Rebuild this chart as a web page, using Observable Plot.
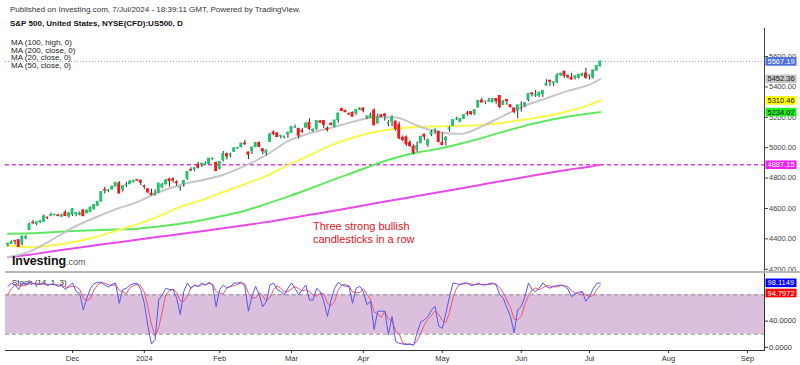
<!DOCTYPE html>
<html><head><meta charset="utf-8">
<script src="https://cdn.jsdelivr.net/npm/d3@7"></script>
<script src="https://cdn.jsdelivr.net/npm/@observablehq/plot@0.6"></script>
<style>
body{margin:0;background:#fff;}
#wrap{position:relative;width:800px;height:365px;overflow:hidden;font-family:"Liberation Sans",Arial,sans-serif;background:#fff;}
.abs{position:absolute;white-space:nowrap;}
</style></head><body>
<div id="wrap">
  <div class="abs" id="stochTitle" style="left:12px;top:278px;font-size:8px;line-height:9px;color:#222;z-index:0">Stoch (14, 1, 3)</div>
  <div class="abs" id="pricePanel" style="left:0;top:0;z-index:1"></div>
  <div class="abs" id="stochPanel" style="left:0;top:273px;z-index:1"></div>
  <div class="abs" style="left:5px;top:271px;width:795px;height:2px;background:#b8b8b8;z-index:2"></div>
  <div class="abs" style="left:10px;top:5px;font-size:8px;line-height:9px;color:#333;z-index:3">Published on Investing.com, 7/Jul/2024 - 18:39:11 GMT, Powered by TradingView.</div>
  <div class="abs" style="left:10px;top:19px;font-size:8px;line-height:9px;color:#111;font-weight:bold;z-index:3">S&amp;P 500, United States, NYSE(CFD):US500, D</div>
  <div class="abs" style="left:11px;top:39px;font-size:8px;line-height:7.6px;color:#222;z-index:3">MA (100, high, 0)<br>MA (200, close, 0)<br>MA (20, close, 0)<br>MA (50, close, 0)</div>
  <div class="abs" style="left:313px;top:220px;font-size:11px;line-height:13px;color:#e3121b;z-index:3">Three strong bullish<br>candlesticks in a row</div>
  <div class="abs" style="left:12px;top:251px;z-index:3;color:#111"><span style="font-size:12.5px;font-weight:bold;letter-spacing:-0.1px">Investing</span><span style="font-size:9px;color:#555">.com</span></div>
</div>
<script>
// ---- daily OHLC, bar index 0 = 6 Nov 2023 ... 165 = 5 Jul 2024 ----
const open = [4364,4366,4384,4391,4365,4406,4458,4505,4497,4509,
4512,4539,4553,4555,4554,4546,4571,4548,4559,4564,
4557,4587,4568,4576,4593,4618,4646,4721,4714,4726,
4744,4764,4724,4754,4759,4773,4786,4782,4745,4726,
4697,4690,4703,4741,4759,4792,4791,4772,4739,4760,
4796,4853,4856,4888,4886,4888,4893,4925,4899,4862,
4917,4957,4950,4973,4996,5004,5027,4968,4977,5004,
5031,4990,4963,5038,5100,5094,5074,5068,5086,5098,
5131,5124,5109,5132,5164,5111,5124,5173,5176,5124,
5155,5139,5182,5254,5242,5220,5228,5226,5249,5258,
5204,5195,5244,5159,5212,5217,5160,5172,5172,5149,
5065,5068,5032,5005,4988,5029,5085,5019,5085,5114,
5103,5030,5050,5122,5143,5187,5168,5190,5225,5234,
5222,5264,5310,5303,5305,5298,5319,5340,5281,5315,
5279,5259,5244,5283,5278,5314,5357,5343,5341,5353,
5410,5441,5424,5431,5476,5499,5471,5459,5461,5460,
5474,5488,5471,5462,5507,5537];
const high = [4372,4386,4391,4393,4418,4421,4503,4521,4511,4521,
4557,4543,4569,4560,4562,4562,4587,4569,4599,4574,
4578,4591,4591,4610,4623,4644,4709,4739,4725,4749,
4768,4778,4749,4772,4784,4785,4793,4788,4754,4729,
4727,4722,4764,4765,4791,4798,4802,4782,4744,4785,
4842,4868,4866,4903,4898,4907,4929,4932,4906,4906,
4975,4965,4964,4999,5000,5030,5048,4971,5002,5033,
5038,4994,4983,5094,5111,5097,5081,5077,5104,5140,
5149,5127,5127,5165,5190,5124,5179,5179,5177,5137,
5166,5180,5225,5261,5247,5230,5236,5249,5264,5264,
5208,5228,5256,5222,5219,5225,5178,5211,5176,5168,
5077,5077,5046,5019,5038,5076,5089,5057,5114,5124,
5110,5096,5074,5139,5183,5200,5191,5215,5239,5238,
5251,5311,5325,5305,5325,5324,5323,5342,5311,5315,
5283,5260,5280,5302,5298,5355,5362,5376,5365,5376,
5448,5442,5432,5489,5490,5506,5479,5490,5472,5483,
5491,5523,5479,5510,5539,5570];
const low = [4347,4362,4359,4343,4353,4393,4458,4496,4487,4500,
4511,4526,4546,4552,4545,4541,4547,4537,4547,4546,
4551,4547,4566,4574,4593,4615,4643,4695,4705,4720,
4743,4697,4708,4737,4758,4768,4781,4751,4723,4700,
4683,4682,4700,4730,4756,4740,4768,4747,4714,4740,
4785,4844,4842,4860,4870,4881,4888,4917,4845,4853,
4907,4919,4934,4969,4988,4999,5016,4921,4955,5000,
4999,4954,4946,5038,5081,5068,5058,5058,5061,5094,
5127,5057,5092,5129,5114,5102,5115,5160,5126,5104,
5148,5131,5161,5240,5229,5216,5203,5213,5246,5229,
5184,5194,5146,5157,5197,5175,5138,5138,5108,5052,
5039,5008,5001,4953,4969,5027,5047,5002,5073,5086,
5035,5013,5011,5102,5142,5178,5166,5185,5207,5211,
5213,5263,5296,5283,5299,5297,5286,5256,5278,5280,
5262,5223,5191,5234,5265,5302,5335,5331,5331,5331,
5405,5403,5403,5421,5471,5455,5452,5447,5446,5452,
5468,5451,5446,5452,5507,5531];
const close = [4366,4378,4383,4347,4415,4411,4496,4503,4508,4514,
4547,4538,4556,4559,4550,4554,4550,4568,4595,4569,
4567,4549,4585,4604,4622,4644,4707,4719,4719,4740,
4768,4698,4747,4755,4775,4782,4783,4770,4743,4705,
4689,4697,4764,4757,4783,4780,4784,4766,4739,4781,
4840,4850,4865,4869,4894,4891,4928,4925,4846,4906,
4959,4943,4954,4995,4998,5027,5022,4953,5001,5030,
5006,4976,4982,5087,5089,5070,5078,5069,5096,5137,
5131,5079,5105,5157,5124,5117,5175,5165,5150,5117,
5149,5179,5225,5241,5234,5218,5204,5248,5254,5243,
5205,5211,5147,5204,5202,5209,5161,5199,5123,5061,
5051,5022,5011,4967,5010,5070,5072,5048,5100,5116,
5036,5018,5064,5128,5181,5187,5188,5214,5223,5221,
5247,5308,5297,5303,5308,5321,5307,5268,5305,5306,
5267,5236,5278,5283,5291,5354,5352,5347,5361,5375,
5421,5434,5431,5473,5487,5473,5465,5448,5469,5478,
5483,5460,5475,5509,5537,5567.19];

// ---- moving averages, read at sampled bars ----
const maBars = [0,6,12,18,24,30,36,42,48,54,60,66,72,78,84,90,96,102,108,114,120,126,132,138,144,150,156,162,165];
const ma20  = [4279,4316,4390,4473,4537,4594,4642,4707,4755,4786,4822,4880,4952,5043,5095,5131,5170,5201,5198,5145,5104,5091,5140,5210,5276,5325,5374,5415,5452.36];
const ma50  = [4356,4345,4356,4377,4410,4452,4495,4548,4610,4655,4708,4760,4815,4885,4950,5015,5065,5103,5125,5137,5140,5144,5150,5165,5185,5208,5240,5282,5310.46];
const ma100 = [4433,4436,4444,4451,4457,4462,4467,4481,4500,4523,4552,4585,4630,4678,4730,4783,4835,4888,4934,4968,4993,5026,5063,5106,5145,5177,5205,5225,5234.02];
const ma200 = [4279,4296,4316,4336,4356,4375,4394,4413,4432,4450,4470,4490,4510,4534,4558,4582,4607,4632,4657,4682,4707,4732,4757,4782,4807,4832,4855,4875,4887.15];

// ---- stochastic (14,1,3) ----
const stochK = [93,98,95,88,98,97,99,97,96,96,
98,94,96,96,93,94,88,93,98,85,
82,57,75,90,97,99,99,95,92,96,
98,67,88,90,95,97,97,88,67,32,
5,12,72,80,90,88,88,75,50,85,
98,90,95,93,98,95,99,95,62,88,
95,90,93,98,98,99,93,55,78,93,
80,62,70,95,98,88,85,80,90,98,
90,80,88,95,72,72,90,85,70,47,
72,90,99,95,93,93,67,90,93,85,
65,70,27,55,55,55,19,47,9,6,
5,4,5,3,22,39,42,47,57,62,
32,29,52,77,98,97,95,98,98,94,
95,98,95,95,97,98,95,80,75,60,
47,22,57,62,77,98,88,85,90,98,
93,90,93,94,95,93,89,77,82,84,
85,70,77,89,97.28,98.1149];
const stochD = [80,90,95.3,93.7,93.7,94.3,98,97.7,97.3,96.3,
96.7,96,96,95.3,95,94.3,91.7,91.7,93,92,
88.3,74.7,71.3,74,87.3,95.3,98.3,97.7,95.3,94.3,
95.3,87,84.3,81.7,91,94,96.3,94,84,62.3,
34.7,16.3,29.7,54.7,80.7,86,88.7,83.7,71,70,
77.7,91,94.3,92.7,95.3,95.3,97.3,96.3,85.3,81.7,
81.7,91,92.7,93.7,96.3,98.3,96.7,82.3,75.3,75.3,
83.7,78.3,70.7,75.7,87.7,93.7,90.3,84.3,85,89.3,
92.7,89.3,86,87.7,85,79.7,78,82.3,81.7,67.3,
63,69.7,87,94.7,95.7,93.7,84.3,83.3,83.3,89.3,
81,73.3,54,50.7,45.7,55,43,40.3,25,20.7,
6.7,5,4.7,4,10,21.3,34.3,42.7,48.7,55.3,
50.3,41,37.7,52.7,75.7,90.7,96.7,96.7,97,96.7,
95.7,95.7,96,96,95.7,96.7,96.7,91,83.3,71.7,
60.7,43,42,47,65.3,79,87.7,90.3,87.7,91,
93.7,93.7,92,92.3,94,94,92.3,86.3,82.7,81,
83.7,79.7,77.3,78.7,87.8,94.7972];
const stochBand = [20, 80];

// ---- axis ticks ----
const monthIdx = [18,38,59,79,99,121,143,162,184,206];
const monthLbl = ["Dec","2024","Feb","Mar","Apr","May","Jun","Jul","Aug","Sep"];
const priceTicks = [4200,4400,4600,4800,5000,5200,5400,5600];
const stochTicks = [0,40];

// ---- build tables ----
const bars = close.map((c, i) => ({i, open: open[i], high: high[i], low: low[i], close: c}));
const maRows = maBars.map((b, k) => ({i: b, ma20: ma20[k], ma50: ma50[k], ma100: ma100[k], ma200: ma200[k]}));
const stochRows = stochK.map((k, i) => ({i, k, d: stochD[i]}));
const last = a => a[a.length - 1];
const priceTags = [
  {v: last(close), fill: "#4a6fd8", ink: "#ffffff"},
  {v: last(ma20), fill: "#c4c4c4", ink: "#222222"},
  {v: last(ma50), fill: "#ffff00", ink: "#111111"},
  {v: last(ma100), fill: "#22ee22", ink: "#111111"},
  {v: last(ma200), fill: "#f020f0", ink: "#ffffff"}
];
const kTag = [{v: last(stochK), fill: "#0000ff", ink: "#ffffff"}];
const dTag = [{v: last(stochD), fill: "#ff0000", ink: "#ffffff"}];

const FONT = '"Liberation Sans", Arial, sans-serif';
const xDomain = [-0.67, 210.75];
const up = "#22c36c", down = "#f21818";

const priceChart = Plot.plot({
  width: 800, height: 273,
  marginTop: 28, marginBottom: 0, marginLeft: 5, marginRight: 36,
  style: {fontFamily: FONT, fontSize: "7.5px", color: "#444", background: "transparent", overflow: "visible"},
  color: {type: "identity"},
  x: {domain: xDomain, axis: null},
  y: {domain: [4171.8, 5784.7], axis: "right", ticks: priceTicks, tickFormat: d => d.toFixed(2), tickSize: 3, tickPadding: 1.5, line: true, label: null},
  marks: [
    Plot.ruleY([last(close)], {stroke: "#8ea6ec", strokeDasharray: "1,2", strokeWidth: 1}),
    Plot.ruleY([last(ma200)], {stroke: "#e03ce0", strokeDasharray: "4,3", strokeWidth: 1.5}),
    Plot.line(maRows, {x: "i", y: "ma200", stroke: "#e84ae8", strokeWidth: 2, curve: "monotone-x"}),
    Plot.line(maRows, {x: "i", y: "ma100", stroke: "#5fe85f", strokeWidth: 2, curve: "monotone-x"}),
    Plot.line(maRows, {x: "i", y: "ma50", stroke: "#f8f84a", strokeWidth: 2, curve: "monotone-x"}),
    Plot.line(maRows, {x: "i", y: "ma20", stroke: "#c6c6c6", strokeWidth: 2, curve: "monotone-x"}),
    Plot.ruleX(bars, {x: "i", y1: "low", y2: "high", stroke: "#2e2e2e", strokeWidth: 1}),
    Plot.rect(bars, {x1: d => d.i - 0.4, x2: d => d.i + 0.4, y1: "open", y2: "close",
      fill: d => d.close >= d.open ? up : down, insetTop: -0.5, insetBottom: -0.5}),
    Plot.text(priceTags, {y: "v", text: d => d.v.toFixed(2), frameAnchor: "right", dx: 3, textAnchor: "start",
      fill: d => d.ink, fontSize: 7.5})
  ]
});

const stochChart = Plot.plot({
  width: 800, height: 92,
  marginTop: 0, marginBottom: 15, marginLeft: 5, marginRight: 36,
  style: {fontFamily: FONT, fontSize: "7.5px", color: "#333", background: "transparent", overflow: "visible"},
  color: {type: "identity"},
  x: {domain: xDomain, ticks: monthIdx, tickFormat: d => monthLbl[monthIdx.indexOf(d)], tickSize: 3, tickPadding: 2, line: true, label: null},
  y: {domain: [-4.9, 112.5], axis: "right", ticks: stochTicks, tickFormat: d => d.toFixed(4), tickSize: 3, tickPadding: 1.5, line: true, label: null},
  marks: [
    Plot.rect([stochBand], {x1: () => xDomain[0], x2: () => xDomain[1], y1: d => d[0], y2: d => d[1], fill: "#dcbfdd"}),
    Plot.ruleY(stochBand, {stroke: "#8c8c8c", strokeDasharray: "4,3", strokeWidth: 1}),
    Plot.line(stochRows, {x: "i", y: "d", stroke: "#f2566a", strokeWidth: 1}),
    Plot.line(stochRows, {x: "i", y: "k", stroke: "#5656f2", strokeWidth: 1}),
    Plot.text(kTag, {y: "v", text: d => d.v.toFixed(4), frameAnchor: "right", dx: 3, textAnchor: "start",
      fill: d => d.ink, fontSize: 7.5}),
    Plot.text(dTag, {y: "v", text: d => d.v.toFixed(4), frameAnchor: "right", dx: 3, dy: 8, textAnchor: "start",
      fill: d => d.ink, fontSize: 7.5})
  ]
});

document.getElementById("pricePanel").appendChild(priceChart);
document.getElementById("stochPanel").appendChild(stochChart);

// colored boxes behind the last-value tags on the right axis
function boxTags(svg, tags, digits) {
  const texts = Array.from(svg.querySelectorAll("text"));
  tags.forEach(tag => {
    const s = tag.v.toFixed(digits);
    const t = texts.find(e => e.textContent.trim() === s);
    if (!t) return;
    const g = t.parentNode;
    svg.appendChild(g);
    const b = t.getBBox();
    const r = document.createElementNS("http://www.w3.org/2000/svg", "rect");
    r.setAttribute("x", b.x - 2);
    r.setAttribute("y", b.y + b.height / 2 - 4.3);
    r.setAttribute("width", 31);
    r.setAttribute("height", 8.6);
    r.setAttribute("fill", tag.fill);
    const tr = t.getAttribute("transform");
    if (tr) r.setAttribute("transform", tr);
    g.insertBefore(r, t);
  });
}
boxTags(priceChart, priceTags, 2);
boxTags(stochChart, kTag, 4);
boxTags(stochChart, dTag, 4);
</script>
</body></html>
